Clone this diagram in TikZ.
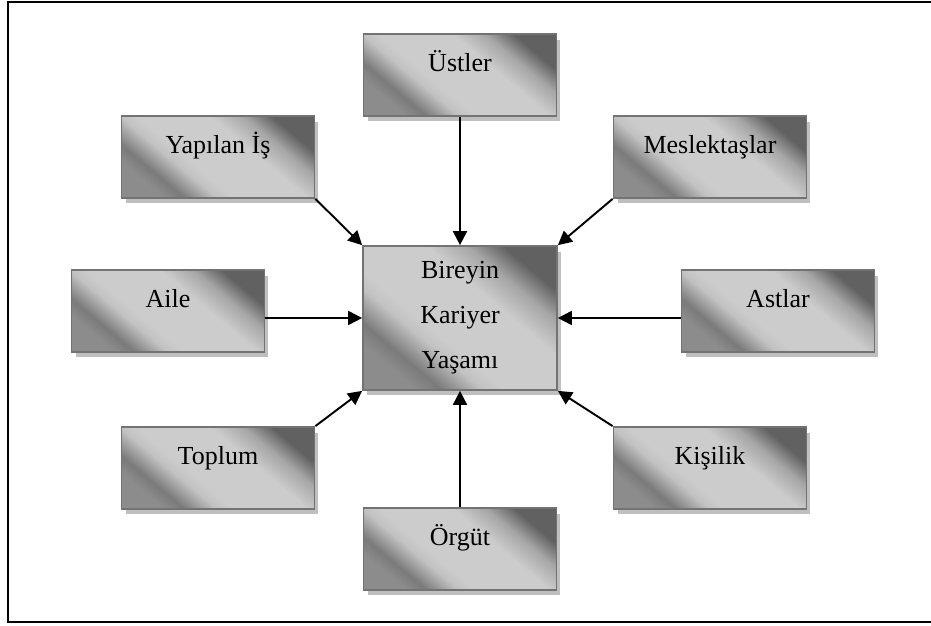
\documentclass[tikz,border=0pt]{standalone}
\usepackage{fontspec}
\setmainfont{Liberation Serif}
\usepackage{tikz}
\usetikzlibrary{shadows}
\usetikzlibrary{arrows.meta}

\pgfdeclareverticalshading{boxgray}{100bp}{color(0bp)=(black!45); color(25bp)=(black!45); color(30bp)=(black!52); color(38bp)=(black!24); color(42bp)=(black!20); color(60bp)=(black!20); color(68bp)=(black!35); color(75bp)=(black!62); color(100bp)=(black!62)}

\begin{document}
\begin{tikzpicture}[x=0.02cm, y=-0.02cm,
        box/.style={rectangle, draw=black!55, line width=1pt, shading=boxgray, shading angle=-40,
            drop shadow={shadow xshift=0.08cm, shadow yshift=-0.11cm, fill=black!25, opacity=1},
            minimum width=3.86cm, inner sep=0pt, text height=0.74cm, text depth=0.9cm,
            font=\fontsize{14.8}{25.6}\selectfont},
        link/.style={-{Triangle[length=0.28cm, width=0.28cm]}, line width=1.1pt}]
        \useasboundingbox (0,0) rectangle (931,626);

        % Frame
        \draw[line width=1.2pt] (931,2) -- (8,2) -- (8,622) -- (931,622);

        % Nodes
        \node[box, align=center, text height=, text depth=, minimum width=3.88cm, minimum height=2.88cm] (0) at (460,318) {Bireyin\\Kariyer\\Yaşamı};
        \node[box] (1) at (460,75) {Üstler};
        \node[box] (2) at (710,157) {Meslektaşlar};
        \node[box] (3) at (778,311) {Astlar};
        \node[box] (4) at (710,468) {Kişilik};
        \node[box] (5) at (460,549) {Örgüt};
        \node[box] (6) at (218,468) {Toplum};
        \node[box] (7) at (168,311) {Aile};
        \node[box] (8) at (218,157) {Yapılan İş};

        % Edges
        \draw[link] (1.south) -- (0.north);
        \draw[link] (2.south west) -- (0.north east);
        \draw[link] (0.east -| 3.west) -- (0.east);
        \draw[link] (4.north west) -- (0.south east);
        \draw[link] (5.north) -- (0.south);
        \draw[link] (6.north east) -- (0.south west);
        \draw[link] (0.west -| 7.east) -- (0.west);
        \draw[link] (8.south east) -- (0.north west);
    \end{tikzpicture}
\end{document}
